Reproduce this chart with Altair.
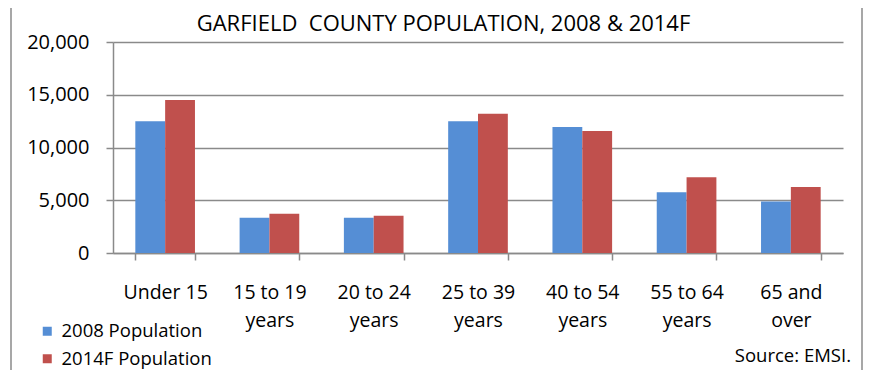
import altair as alt
import pandas as pd

categories = ["Under 15", "15 to 19|years", "20 to 24|years", "25 to 39|years",
              "40 to 54|years", "55 to 64|years", "65 and|over"]
pop_2008 = [12500, 3350, 3350, 12500, 11950, 5750, 4880]
pop_2014f = [14500, 3720, 3540, 13200, 11560, 7170, 6260]
series = ["2008 Population", "2014F Population"]
colors = ["#558ed5", "#c0504d"]
y_ticks = [0, 5000, 10000, 15000, 20000]
title_text = "GARFIELD\u00a0 COUNTY POPULATION, 2008 & 2014F"
source_text = "Source: EMSI."

rows = []
for c, a, b in zip(categories, pop_2008, pop_2014f):
    rows.append({"cat": c, "series": series[0], "value": a})
    rows.append({"cat": c, "series": series[1], "value": b})
df = pd.DataFrame(rows)

FONT = "Open Sans"
GRAY = "#8a8a8a"

bars = alt.Chart(df).mark_bar().encode(
    x=alt.X("cat:N", sort=categories, title=None,
            scale=alt.Scale(paddingInner=0.428, paddingOuter=0.214),
            axis=alt.Axis(labelAngle=0, labelExpr="split(datum.label, '|')",
                          tickBand="extent", tickSize=7, tickColor=GRAY, tickWidth=1.5,
                          domainColor=GRAY, domainWidth=1.5,
                          labelFontSize=19.5, labelFont=FONT, labelColor="black",
                          labelPadding=32, labelLineHeight=28, labelBaseline="middle")),
    xOffset=alt.XOffset("series:N", sort=series,
                        scale=alt.Scale(paddingInner=0, paddingOuter=0)),
    y=alt.Y("value:Q", title=None,
            scale=alt.Scale(domain=[0, 20000], nice=False),
            axis=alt.Axis(values=y_ticks, labelExpr="format(datum.value, ',')",
                          tickSize=7, tickColor=GRAY, tickWidth=1.5,
                          domainColor=GRAY, domainWidth=1.5,
                          gridColor=GRAY, gridWidth=1.5,
                          labelFontSize=20, labelFont=FONT, labelColor="black",
                          labelPadding=17)),
    color=alt.Color("series:N", sort=series,
                    scale=alt.Scale(domain=series, range=colors),
                    legend=alt.Legend(title=None, orient="none", legendX=-75, legendY=280,
                                      symbolType="square", symbolSize=81,
                                      symbolStrokeWidth=0, symbolOpacity=1,
                                      labelFontSize=18.5, labelFont=FONT, labelColor="black",
                                      rowPadding=8.5, labelOffset=5)),
)

source = alt.Chart(pd.DataFrame({"t": [source_text]})).mark_text(
    align="right", baseline="alphabetic", fontSize=18.5, font=FONT, color="black"
).encode(text="t:N", x=alt.value(738), y=alt.value(319.5))

title = alt.Chart(pd.DataFrame({"t": [title_text]})).mark_text(
    align="center", baseline="alphabetic", fontSize=22, font=FONT, color="black"
).encode(text="t:N", x=alt.value(330.5), y=alt.value(-11))

border = alt.Chart(pd.DataFrame({"k": [0, 1]})).mark_rule(color=GRAY, strokeWidth=1.5).encode(
    x=alt.X("k:Q", scale=alt.Scale(domain=[0, 1], range=[-102, 749]), axis=None),
    y=alt.value(-42), y2=alt.value(330))

chart = alt.layer(border, bars, source, title).resolve_scale(x="independent").properties(
    width=730, height=211,
    autosize=alt.AutoSizeParams(type="none"),
    padding={"left": 105, "top": 34, "right": 20, "bottom": 119},
).configure_view(stroke=None)

chart.save("out.html", embed_options={"renderer": "svg", "actions": False})
